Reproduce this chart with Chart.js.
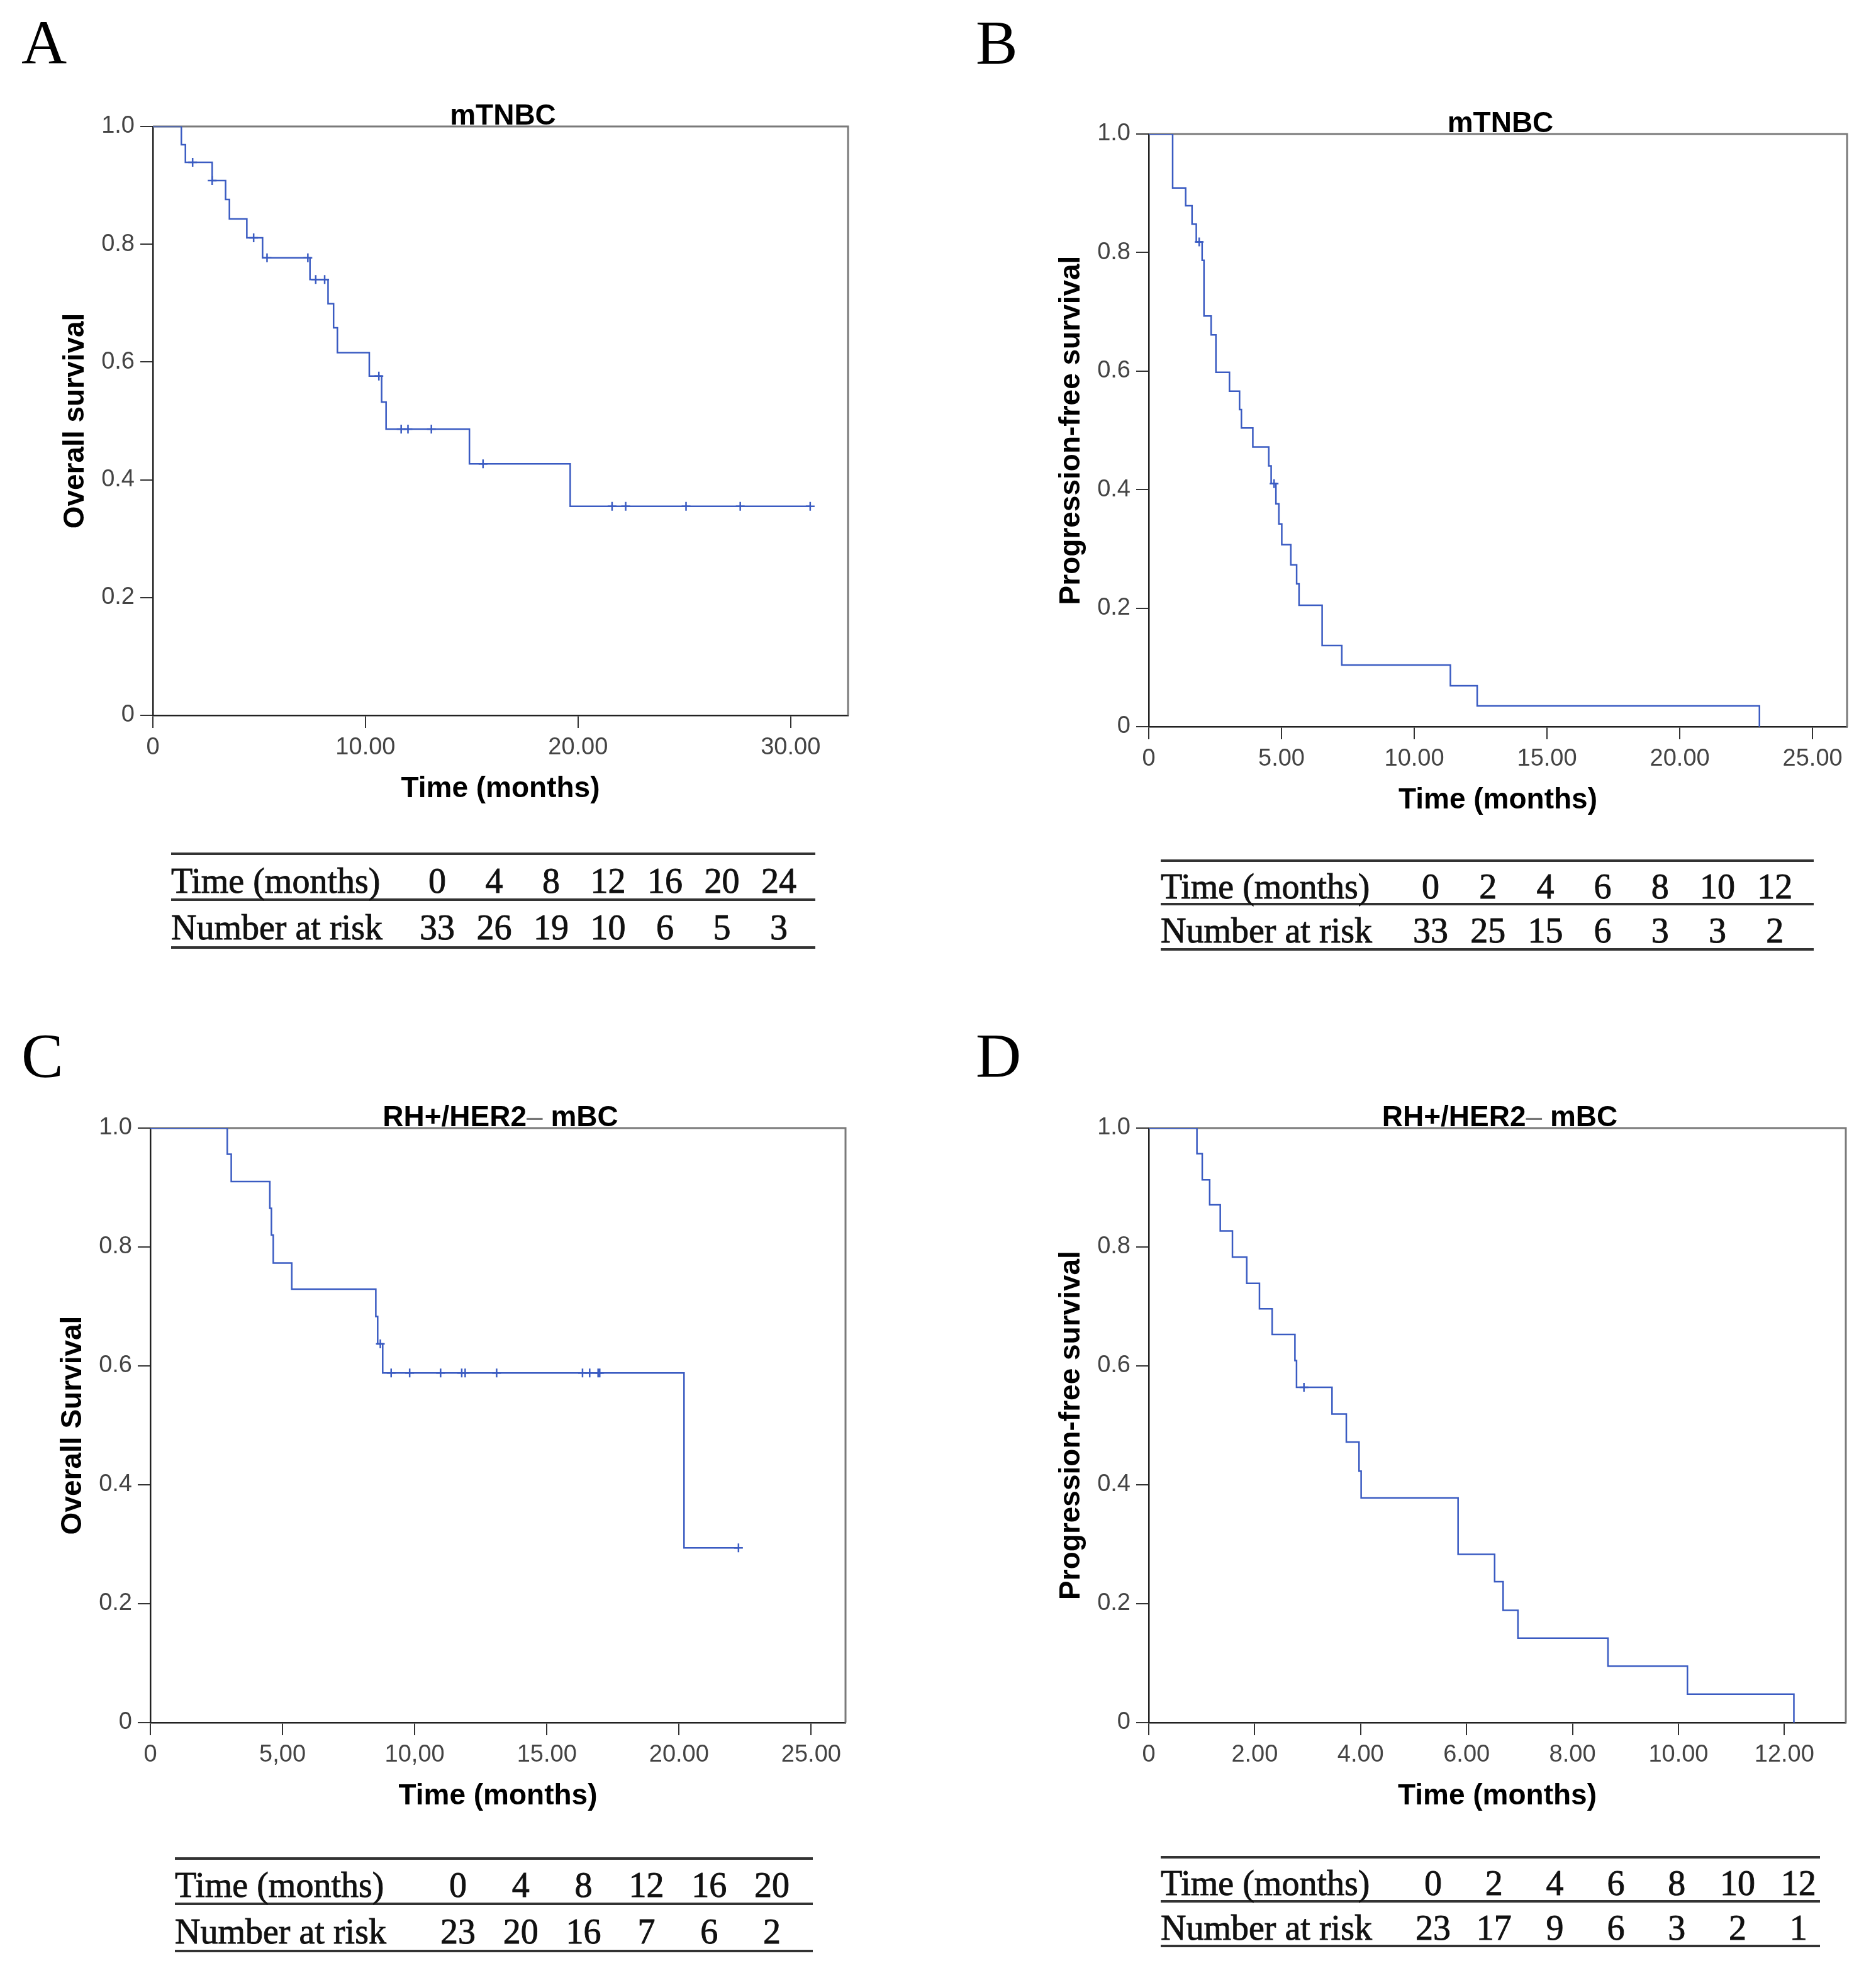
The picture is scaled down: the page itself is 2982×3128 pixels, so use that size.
<!DOCTYPE html>
<html>
<head>
<meta charset="utf-8">
<script src="https://cdn.jsdelivr.net/npm/chart.js@4.4.1/dist/chart.umd.min.js"></script>
<style>
  body { margin: 0; background: #fff; width: 2982px; height: 3128px; position: relative; overflow: hidden; }
  canvas { position: absolute; }
  .letter { position: absolute; font-family: "Liberation Serif", serif; font-size: 100px; line-height: 1; color: #000; }
  .risk { position: absolute; font-family: "Liberation Serif", serif; font-size: 56px; color: #111; -webkit-text-stroke: 0.9px #111; }
  .risk .rule { position: absolute; left: 0; right: 0; height: 4px; background: #333; }
  .risk span { position: absolute; white-space: nowrap; transform: translate(-50%, -50%); }
  .risk span.lab { transform: translate(0, -50%); }
</style>
</head>
<body>
<script>
// ---- data ----

// A: overall survival, mTNBC
const timeA = [0, 1.34, 1.53, 2.79, 3.42, 3.6, 4.42, 5.16, 7.39, 8.24, 8.5, 8.68, 10.18, 10.76, 10.97, 14.89, 19.63, 30.92];
const survA = [1, 0.969, 0.939, 0.908, 0.876, 0.843, 0.811, 0.777, 0.740, 0.699, 0.658, 0.616, 0.576, 0.532, 0.486, 0.427, 0.355, 0.355];
const censA = [1.87, 2.79, 4.74, 5.37, 7.29, 7.66, 8.08, 10.63, 11.68, 12.0, 13.1, 15.53, 21.6, 22.24, 25.08, 27.63, 30.92];

// B: progression-free survival, mTNBC
const timeB = [0, 0.9, 1.39, 1.63, 1.79, 2.01, 2.08, 2.35, 2.53, 3.04, 3.42, 3.49, 3.92, 4.52, 4.61, 4.79, 4.9, 5.01, 5.35, 5.57, 5.66, 6.53, 7.27, 11.36, 12.37, 23.0];
const survB = [1, 0.909, 0.879, 0.848, 0.818, 0.787, 0.693, 0.661, 0.598, 0.566, 0.535, 0.504, 0.472, 0.44, 0.41, 0.376, 0.342, 0.307, 0.273, 0.241, 0.205, 0.137, 0.104, 0.069, 0.035, 0];
const censB = [1.9, 4.72];

// C: overall survival, RH+/HER2- mBC
const timeC = [0, 2.91, 3.06, 4.52, 4.58, 4.65, 5.35, 8.53, 8.6, 8.79, 20.19, 22.25];
const survC = [1, 0.956, 0.910, 0.865, 0.82, 0.773, 0.729, 0.683, 0.637, 0.588, 0.294, 0.294];
const censC = [8.7, 9.11, 9.81, 10.98, 11.78, 11.91, 13.1, 16.35, 16.62, 16.94, 17.0, 22.25];

// D: progression-free survival, RH+/HER2- mBC
const timeD = [0, 0.91, 1.01, 1.15, 1.35, 1.58, 1.85, 2.09, 2.33, 2.76, 2.79, 3.46, 3.73, 3.97, 4.01, 5.84, 6.53, 6.69, 6.97, 8.67, 10.17, 12.18];
const survD = [1, 0.957, 0.913, 0.871, 0.827, 0.783, 0.739, 0.696, 0.653, 0.609, 0.564, 0.519, 0.472, 0.423, 0.378, 0.283, 0.237, 0.189, 0.142, 0.095, 0.048, 0];
const censD = [2.93];

// axis ticks and labels
const yTicks = [0, 0.2, 0.4, 0.6, 0.8, 1.0];
const yTickLabels = ['0', '0.2', '0.4', '0.6', '0.8', '1.0'];
const xTicksA = [0, 10, 20, 30];
const xTickLabelsA = ['0', '10.00', '20.00', '30.00'];
const xTicksB = [0, 5, 10, 15, 20, 25];
const xTickLabelsB = ['0', '5.00', '10.00', '15.00', '20.00', '25.00'];
const xTicksC = [0, 5, 10, 15, 20, 25];
const xTickLabelsC = ['0', '5,00', '10,00', '15.00', '20.00', '25.00'];
const xTicksD = [0, 2, 4, 6, 8, 10, 12];
const xTickLabelsD = ['0', '2.00', '4.00', '6.00', '8.00', '10.00', '12.00'];

// number at risk tables
const riskTimeA = [0, 4, 8, 12, 16, 20, 24];
const riskA = [33, 26, 19, 10, 6, 5, 3];
const riskTimeB = [0, 2, 4, 6, 8, 10, 12];
const riskB = [33, 25, 15, 6, 3, 3, 2];
const riskTimeC = [0, 4, 8, 12, 16, 20];
const riskC = [23, 20, 16, 7, 6, 2];
const riskTimeD = [0, 2, 4, 6, 8, 10, 12];
const riskD = [23, 17, 9, 6, 3, 2, 1];

// ---- layout ----
const SANS = '"Liberation Sans", Arial, sans-serif';
const BLUE = '#3a5bc2';
const PAD_L = 190, PAD_T = 70, PAD_R = 50, PAD_B = 160;

const panels = [
  { letter: 'A', lx: 34, ly: 18, L: 243, T: 201, R: 1348, B: 1137, xMax: 32.7,
    time: timeA, surv: survA, cens: censA, xTicks: xTicksA, xLabels: xTickLabelsA,
    title: [['mTNBC', '#000', 'bold']], yTitle: 'Overall survival',
    risk: { left: 272, top: 1357, width: 1024, firstX: 695, step: 90.5, lines: [0, 73, 149], times: riskTimeA, n: riskA } },
  { letter: 'B', lx: 1551, ly: 18, L: 1826, T: 213, R: 2936, B: 1155, xMax: 26.3,
    time: timeB, surv: survB, cens: censB, xTicks: xTicksB, xLabels: xTickLabelsB,
    title: [['mTNBC', '#000', 'bold']], yTitle: 'Progression-free survival',
    risk: { left: 1845, top: 1368, width: 1038, firstX: 2274, step: 91.2, lines: [0, 69, 141], times: riskTimeB, n: riskB } },
  { letter: 'C', lx: 34, ly: 1628, L: 239, T: 1793, R: 1344, B: 2738, xMax: 26.3,
    time: timeC, surv: survC, cens: censC, xTicks: xTicksC, xLabels: xTickLabelsC,
    title: [['RH+/HER2', '#000', 'bold'], ['\u2013', '#777', 'normal'], [' mBC', '#000', 'bold']], yTitle: 'Overall Survival',
    risk: { left: 278, top: 2954, width: 1014, firstX: 728, step: 99.8, lines: [0, 72, 147], times: riskTimeC, n: riskC } },
  { letter: 'D', lx: 1551, ly: 1628, L: 1826, T: 1793, R: 2934, B: 2738, xMax: 13.16,
    time: timeD, surv: survD, cens: censD, xTicks: xTicksD, xLabels: xTickLabelsD,
    title: [['RH+/HER2', '#000', 'bold'], ['\u2013', '#777', 'normal'], [' mBC', '#000', 'bold']], yTitle: 'Progression-free survival',
    risk: { left: 1845, top: 2952, width: 1048, firstX: 2278, step: 96.8, lines: [0, 70, 141], times: riskTimeD, n: riskD } }
];

// survival value of the step curve at time t
function stepAt(times, surv, t) {
  let s = surv[0];
  for (let i = 0; i < times.length; i++) if (times[i] <= t) s = surv[i];
  return s;
}

// grey top/right frame like the SPSS plot box
const framePlugin = {
  id: 'frame',
  beforeDatasetsDraw(chart) {
    const a = chart.chartArea, c = chart.ctx;
    c.save();
    c.strokeStyle = '#7a7a7a';
    c.lineWidth = 3;
    c.beginPath();
    c.moveTo(a.left, a.top);
    c.lineTo(a.right, a.top);
    c.lineTo(a.right, a.bottom);
    c.stroke();
    c.restore();
  }
};

// panel title drawn just above the plot box
const titlePlugin = {
  id: 'panelTitle',
  afterDraw(chart, args, opts) {
    const a = chart.chartArea, c = chart.ctx;
    c.save();
    c.textBaseline = 'alphabetic';
    let total = 0;
    const parts = opts.parts.map(p => {
      c.font = p[2] + ' 46px ' + SANS;
      const w = c.measureText(p[0]).width;
      total += w;
      return { text: p[0], color: p[1], font: c.font, w };
    });
    let x = (a.left + a.right) / 2 + 4 - total / 2;
    parts.forEach(p => {
      c.font = p.font;
      c.fillStyle = p.color;
      c.textAlign = 'left';
      c.fillText(p.text, x, a.top - 3);
      x += p.w;
    });
    c.restore();
  }
};

function makeChart(p) {
  const W = p.R - p.L + PAD_L + PAD_R, H = p.B - p.T + PAD_T + PAD_B;
  const cv = document.createElement('canvas');
  cv.width = W; cv.height = H;
  cv.style.left = (p.L - PAD_L) + 'px';
  cv.style.top = (p.T - PAD_T) + 'px';
  cv.style.width = W + 'px';
  cv.style.height = H + 'px';
  document.body.appendChild(cv);

  new Chart(cv, {
    type: 'line',
    data: {
      datasets: [
        {
          data: p.time.map((t, i) => ({ x: t, y: p.surv[i] })),
          stepped: 'before',
          borderColor: BLUE,
          borderWidth: 2.5,
          pointRadius: 0,
          fill: false
        },
        {
          type: 'scatter',
          data: p.cens.map(t => ({ x: t, y: stepAt(p.time, p.surv, t) })),
          pointStyle: 'cross',
          pointRadius: 7,
          borderColor: BLUE,
          backgroundColor: BLUE,
          borderWidth: 2.5
        }
      ]
    },
    options: {
      responsive: false,
      animation: false,
      devicePixelRatio: 1,
      layout: { padding: { left: 0, top: PAD_T, right: PAD_R, bottom: 0 } },
      plugins: {
        legend: { display: false },
        tooltip: { enabled: false },
        panelTitle: { parts: p.title }
      },
      scales: {
        x: {
          type: 'linear',
          min: 0,
          max: p.xMax,
          afterBuildTicks: s => { s.ticks = p.xTicks.map(v => ({ value: v })); },
          afterFit: s => { s.height = PAD_B; },
          ticks: {
            autoSkip: false, maxRotation: 0, padding: 9, color: '#444',
            font: { family: SANS, size: 38 },
            callback: v => p.xLabels[p.xTicks.indexOf(v)]
          },
          grid: { drawOnChartArea: false, drawTicks: true, tickLength: 20, color: '#333', lineWidth: 2 },
          border: { display: true, color: '#222', width: 2.5 },
          title: {
            display: true, text: 'Time (months)', color: '#000',
            font: { family: SANS, size: 46, weight: 'bold', lineHeight: 1.2 },
            padding: { top: 0, bottom: 15 }
          }
        },
        y: {
          min: 0,
          max: 1,
          afterBuildTicks: s => { s.ticks = yTicks.map(v => ({ value: v })); },
          afterFit: s => { s.width = PAD_L; },
          ticks: {
            padding: 9, color: '#444',
            font: { family: SANS, size: 38 },
            callback: v => yTickLabels[yTicks.indexOf(v)]
          },
          grid: { drawOnChartArea: false, drawTicks: true, tickLength: 20, color: '#333', lineWidth: 2 },
          border: { display: true, color: '#222', width: 2.5 },
          title: {
            display: true, text: p.yTitle, color: '#000',
            font: { family: SANS, size: 46, weight: 'bold', lineHeight: 1.2 },
            padding: { top: 40, bottom: 0 }
          }
        }
      }
    },
    plugins: [framePlugin, titlePlugin]
  });
}

function makeLetter(p) {
  const d = document.createElement('div');
  d.className = 'letter';
  d.textContent = p.letter;
  d.style.left = p.lx + 'px';
  d.style.top = p.ly + 'px';
  document.body.appendChild(d);
}

function makeRisk(r) {
  const box = document.createElement('div');
  box.className = 'risk';
  box.style.left = r.left + 'px';
  box.style.top = r.top + 'px';
  box.style.width = r.width + 'px';
  box.style.height = r.lines[2] + 'px';
  r.lines.forEach(y => {
    const l = document.createElement('div');
    l.className = 'rule';
    l.style.top = (y - 2) + 'px';
    box.appendChild(l);
  });
  const rows = [
    { label: 'Time (months)', vals: r.times, y: (r.lines[0] + r.lines[1]) / 2 + 6 },
    { label: 'Number at risk', vals: r.n, y: (r.lines[1] + r.lines[2]) / 2 + 6 }
  ];
  rows.forEach(row => {
    const lab = document.createElement('span');
    lab.className = 'lab';
    lab.textContent = row.label;
    lab.style.left = '0px';
    lab.style.top = row.y + 'px';
    box.appendChild(lab);
    row.vals.forEach((v, i) => {
      const s = document.createElement('span');
      s.textContent = v;
      s.style.left = (r.firstX - r.left + i * r.step) + 'px';
      s.style.top = row.y + 'px';
      box.appendChild(s);
    });
  });
  document.body.appendChild(box);
}

panels.forEach(p => {
  makeLetter(p);
  makeChart(p);
  makeRisk(p.risk);
});
</script>
</body>
</html>
